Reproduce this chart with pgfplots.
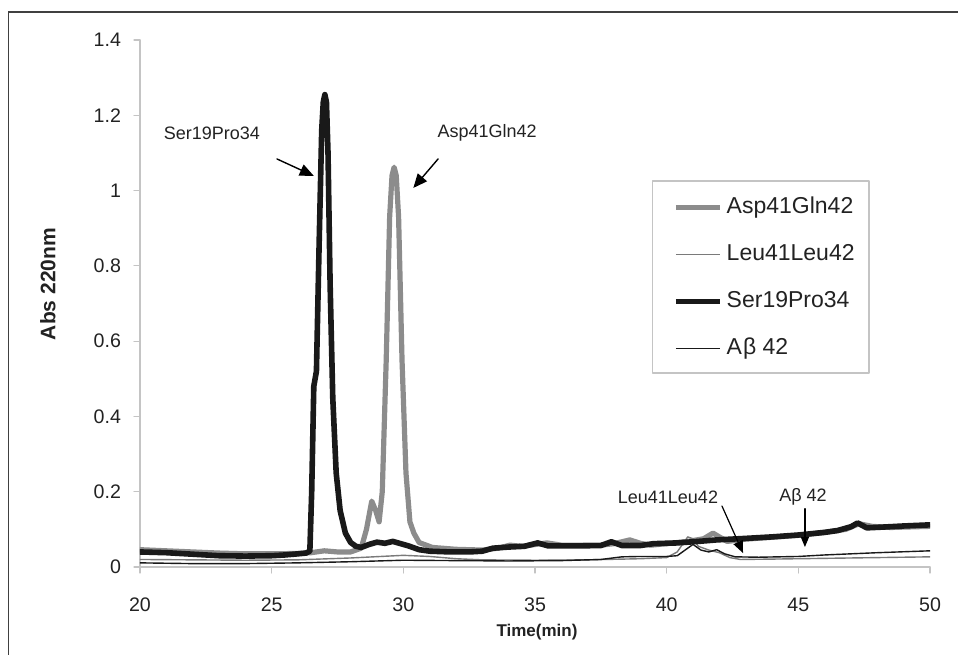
\documentclass[border=0pt]{standalone}
\usepackage{pgfplots}
\pgfplotsset{compat=1.18}
\usepackage{fontspec}
\setmainfont{Liberation Sans}
\usetikzlibrary{arrows.meta}
\definecolor{thickgray}{HTML}{8C8C8C}
\definecolor{thingray}{HTML}{7A7A7A}
\definecolor{axgray}{HTML}{C4C4C4}
\definecolor{txt}{HTML}{222222}
\begin{document}
\begin{tikzpicture}
\useasboundingbox (0,0) rectangle (479pt,327pt);
\draw[color=black!75, line width=0.8pt] (4.25pt,-2pt) -- (4.25pt,321pt) -- (481pt,321pt);
\begin{axis}[
  at={(70pt,43.5pt)}, anchor=south west,
  scale only axis, width=395pt, height=263.5pt,
  xmin=20, xmax=50, ymin=0, ymax=1.4,
  axis lines=left, axis line style={draw=axgray, line width=0.6pt, -},
  xtick={20,25,...,50}, ytick={0,0.2,...,1.4},
  tick align=outside, major tick length=3pt,
  tick style={draw=axgray, line width=0.6pt},
  /pgf/number format/assume math mode=true,
  /pgf/number format/fixed,
  ticklabel style={font=\fontsize{9.8}{11}\selectfont, text=txt},
  yticklabel style={xshift=-3pt},
  xticklabel style={yshift=-9pt},
  xlabel={\textbf{Time(min)}},
  ylabel={\textbf{Abs 220nm}},
  x label style={at={(axis description cs:0.5025,0)}, anchor=center, yshift=-32.5pt, font=\fontsize{8.5}{10}\selectfont, text=txt},
  y label style={at={(axis description cs:-0.1165,0.537)}, anchor=center, font=\fontsize{10.5}{12}\selectfont, text=txt},
  legend image code/.code={\draw[#1] (0pt,0pt) -- (22pt,0pt);},
  legend cell align=left,
  legend style={at={(rel axis cs:0.649,0.7324)}, anchor=north west, yshift=-1.5pt, draw=none, fill=none,
    font=\fontsize{11.5}{13}\selectfont, text=txt, row sep=12.5pt, inner xsep=10pt, inner ysep=6pt,
    nodes={inner ysep=0pt, text height=8.5pt, text depth=2.5pt},
    /tikz/every even column/.append style={column sep=2.5pt}},
  line join=round, line cap=round,
]
\draw[draw=axgray, line width=0.6pt] (rel axis cs:0.649,0.368) rectangle (rel axis cs:0.9228,0.7324);
\addplot[draw=thickgray, line width=2.6pt] coordinates {
(20,0.046)(21,0.043)(22,0.040)(23,0.037)(24,0.035)(25,0.035)(26,0.036)(26.5,0.038)(27,0.043)(27.5,0.040)(28,0.040)(28.4,0.05)(28.6,0.10)(28.8,0.175)(28.95,0.15)(29.08,0.12)(29.2,0.2)(29.35,0.55)(29.48,0.93)(29.57,1.04)(29.65,1.062)(29.73,1.04)(29.82,0.93)(29.95,0.55)(30.1,0.25)(30.25,0.12)(30.4,0.09)(30.6,0.065)(31.1,0.052)(32,0.047)(33,0.045)(33.6,0.05)(34.05,0.058)(34.5,0.055)(35.45,0.064)(36,0.058)(37.5,0.058)(38.0,0.062)(38.6,0.072)(39,0.063)(39.4,0.058)(40,0.062)(40.8,0.068)(41.4,0.075)(41.76,0.09)(42.0,0.08)(42.3,0.068)(43,0.074)(44,0.079)(45,0.084)(46,0.092)(46.8,0.1)(47.3,0.115)(47.8,0.108)(48.5,0.105)(49,0.106)(50,0.108)
};
\addlegendentry{Asp41Gln42}
\addplot[draw=thingray, line width=0.7pt] coordinates {
(20,0.02)(22,0.019)(24,0.018)(26,0.019)(28,0.024)(30,0.031)(31,0.028)(32,0.022)(33,0.019)(35,0.018)(37,0.019)(39,0.022)(40,0.025)(40.4,0.04)(40.6,0.06)(40.8,0.08)(41.0,0.075)(41.2,0.055)(41.6,0.045)(42,0.038)(42.4,0.025)(42.8,0.02)(44,0.021)(46,0.023)(48,0.025)(50,0.027)
};
\addlegendentry{Leu41Leu42}
\addplot[draw=black!90, line width=2.8pt] coordinates {
(20,0.040)(21,0.038)(22,0.034)(23,0.030)(24,0.029)(25,0.030)(25.5,0.032)(26,0.035)(26.3,0.037)(26.45,0.042)(26.52,0.2)(26.6,0.48)(26.7,0.52)(26.8,0.85)(26.9,1.16)(26.96,1.235)(27.02,1.255)(27.08,1.235)(27.14,1.1)(27.22,0.75)(27.32,0.45)(27.45,0.25)(27.6,0.15)(27.8,0.09)(28.0,0.065)(28.2,0.055)(28.4,0.052)(28.7,0.06)(29.0,0.066)(29.3,0.063)(29.6,0.068)(29.9,0.062)(30.2,0.056)(30.6,0.046)(31,0.042)(31.8,0.040)(32.5,0.040)(33,0.042)(33.4,0.05)(34,0.053)(34.6,0.055)(35.1,0.064)(35.5,0.056)(36.5,0.056)(37.5,0.057)(37.9,0.067)(38.3,0.057)(39,0.057)(39.5,0.062)(40.4,0.064)(41.2,0.068)(41.9,0.072)(43,0.076)(44,0.08)(45,0.085)(46,0.092)(46.5,0.097)(47,0.107)(47.25,0.117)(47.6,0.104)(48.2,0.106)(49,0.109)(50,0.112)
};
\addlegendentry{Ser19Pro34}
\addplot[draw=black!90, line width=0.7pt] coordinates {
(20,0.011)(22,0.009)(24,0.009)(26,0.011)(28,0.014)(30,0.018)(32,0.017)(34,0.016)(36,0.017)(37.5,0.02)(38.3,0.027)(39,0.028)(40,0.028)(40.4,0.03)(40.7,0.045)(41.0,0.06)(41.3,0.045)(41.6,0.04)(41.9,0.046)(42.2,0.035)(42.6,0.027)(43.5,0.026)(45,0.028)(46,0.032)(48,0.038)(50,0.043)
};
\addlegendentry{A\kern0.5ptβ 42}
% annotations
\node[font=\fontsize{9}{10}\selectfont, text=txt] at (axis cs:22.73,1.153) {Ser19Pro34};
\draw[line width=0.7pt, -{Triangle[length=7pt,width=6pt]}] (axis cs:25.2,1.084) -- (axis cs:26.6,1.039);
\node[font=\fontsize{9}{10}\selectfont, text=txt] at (axis cs:33.18,1.153) {Asp41Gln42};
\draw[line width=0.7pt, -{Triangle[length=7pt,width=6pt]}] (axis cs:31.32,1.084) -- (axis cs:30.38,1.007);
\node[font=\fontsize{9}{10}\selectfont, text=txt] at (axis cs:40.05,0.186) {Leu41Leu42};
\draw[line width=0.6pt, -{Triangle[length=6pt,width=5pt]}] (axis cs:42.10,0.162) -- (axis cs:42.90,0.037);
\node[font=\fontsize{9}{10}\selectfont, text=txt] at (axis cs:45.18,0.186) {Aβ 42};
\draw[line width=0.6pt, -{Triangle[length=5pt,width=4pt]}] (axis cs:45.25,0.155) -- (axis cs:45.25,0.053);
\end{axis}
\end{tikzpicture}
\end{document}
